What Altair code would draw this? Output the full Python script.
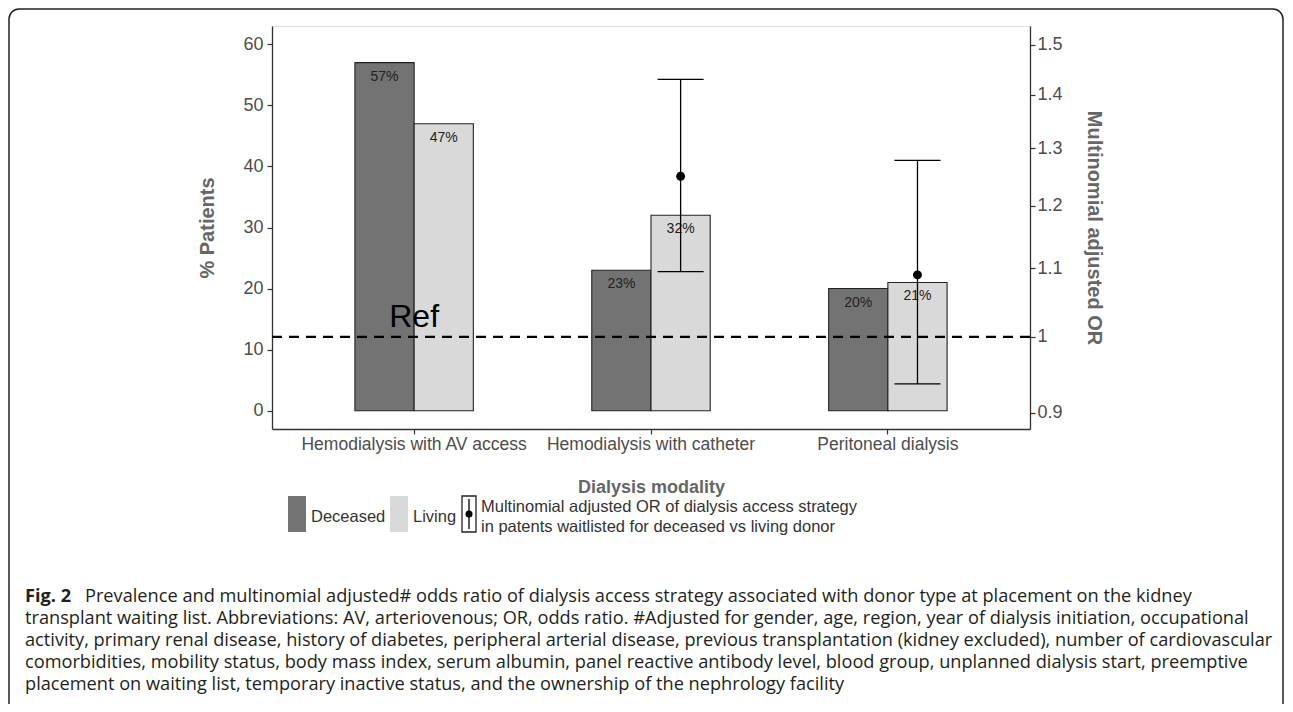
import altair as alt
import pandas as pd

# ---------------- data ----------------
modalities = ["Hemodialysis with AV access", "Hemodialysis with catheter", "Peritoneal dialysis"]
donors = ["Deceased", "Living"]
deceased_pct = [57, 23, 20]
living_pct = [47, 32, 21]

or_modalities = ["Hemodialysis with catheter", "Peritoneal dialysis"]
or_donor = ["Living", "Living"]
or_estimate = [1.25, 1.09]
or_lower = [1.095, 0.937]
or_upper = [1.43, 1.278]
ref_value = [1.0]
ref_label = ["Ref"]
ref_modality = ["Hemodialysis with AV access"]

left_ticks = [0, 10, 20, 30, 40, 50, 60]
right_ticks = [0.9, 1.0, 1.1, 1.2, 1.3, 1.4, 1.5]

legend_labels = ["Deceased", "Living"]
legend_colors = ["#737373", "#d9d9d9"]
or_legend_lines = ["Multinomial adjusted OR of dialysis access strategy",
                   "in patents waitlisted for deceased vs living donor"]

caption_bold = "Fig. 2"
caption_first = ("Prevalence and multinomial adjusted# odds ratio of dialysis access strategy "
                 "associated with donor type at placement on the kidney")
caption_rest = [
    "transplant waiting list. Abbreviations: AV, arteriovenous; OR, odds ratio. #Adjusted for gender, age, region, year of dialysis initiation, occupational",
    "activity, primary renal disease, history of diabetes, peripheral arterial disease, previous transplantation (kidney excluded), number of cardiovascular",
    "comorbidities, mobility status, body mass index, serum albumin, panel reactive antibody level, blood group, unplanned dialysis start, preemptive",
    "placement on waiting list, temporary inactive status, and the ownership of the nephrology facility",
]

# ---------------- tables ----------------
bars_df = pd.DataFrame({
    "modality": modalities * 2,
    "donor": [donors[0]] * 3 + [donors[1]] * 3,
    "pct": deceased_pct + living_pct,
})
bars_df["label"] = bars_df["pct"].astype(int).astype(str) + "%"

or_df = pd.DataFrame({
    "modality": or_modalities,
    "donor": or_donor,
    "est": or_estimate,
    "low": or_lower,
    "high": or_upper,
})
ref_df = pd.DataFrame({"modality": ref_modality, "or": ref_value, "label": ref_label})

W, H = 758, 403
FONT = "Liberation Sans"
AXIS_COL = "#333333"
LABEL_COL = "#4d4d4d"
TITLE_COL = "#666666"

x_enc = alt.X("modality:N", sort=modalities,
              scale=alt.Scale(domain=modalities, paddingInner=0.5, paddingOuter=0.35),
              axis=alt.Axis(title="Dialysis modality", labelAngle=0, labelFontSize=17.5,
                            labelLimit=0, labelColor=LABEL_COL, labelFont=FONT, titleFont=FONT,
                            titleFontSize=18, titleColor=TITLE_COL, titleFontWeight="bold",
                            titlePadding=26, labelPadding=1, tickSize=5, tickColor=AXIS_COL,
                            domainColor=AXIS_COL, domainWidth=1.3, tickWidth=1.2, grid=False))
xoff_enc = alt.XOffset("donor:N", sort=donors,
                       scale=alt.Scale(domain=donors, paddingInner=0, paddingOuter=0))

left_scale = alt.Scale(domain=[-3, 63], nice=False, zero=False)
left_axis = alt.Axis(values=left_ticks, title="% Patients", labelFontSize=18, labelColor=LABEL_COL,
                     labelFont=FONT, titleFont=FONT, titleFontSize=20, titleColor=TITLE_COL,
                     titleFontWeight="bold", titlePadding=25, labelPadding=4, tickSize=5,
                     tickColor=AXIS_COL, domainColor=AXIS_COL, domainWidth=1.3, tickWidth=1.2,
                     grid=False)

right_scale = alt.Scale(type="log", domain=[0.88, 1.54], nice=False, zero=False)
right_axis = alt.Axis(orient="right", values=right_ticks, format="~g",
                      title="Multinomial adjusted OR", labelFontSize=18, labelColor=LABEL_COL,
                      labelFont=FONT, titleFont=FONT, titleFontSize=20, titleColor=TITLE_COL,
                      titleFontWeight="bold", titlePadding=21, labelPadding=2, tickSize=5,
                      tickColor=AXIS_COL, domainColor=AXIS_COL, domainWidth=1.3, tickWidth=1.2,
                      grid=False)

# ---------------- left layer: bars ----------------
bars = alt.Chart(bars_df).mark_bar(stroke="#222222", strokeWidth=1.1).encode(
    x=x_enc,
    xOffset=xoff_enc,
    y=alt.Y("pct:Q", scale=left_scale, axis=left_axis),
    y2=alt.datum(0),
    color=alt.Color("donor:N", scale=alt.Scale(domain=legend_labels, range=legend_colors), legend=None),
)
bar_text = alt.Chart(bars_df).mark_text(baseline="top", dy=7, fontSize=14, font=FONT,
                                        color="#222222").encode(
    x=alt.X("modality:N", sort=modalities),
    xOffset=xoff_enc,
    y=alt.Y("pct:Q", scale=left_scale, axis=left_axis),
    text="label:N",
)
left_layer = alt.layer(bars, bar_text)

# ---------------- right layer: OR ----------------
ref_rule = alt.Chart(ref_df).mark_rule(color="black", strokeWidth=2.2, strokeDash=[10, 7]).encode(
    y=alt.Y("or:Q", scale=right_scale, axis=right_axis),
)
ref_text = alt.Chart(ref_df).mark_text(fontSize=32, font=FONT, color="black", baseline="alphabetic",
                                       dy=-10).encode(
    x=alt.X("modality:N", sort=modalities),
    y=alt.Y("or:Q", scale=right_scale, axis=right_axis),
    text="label:N",
)
err_rule = alt.Chart(or_df).mark_rule(color="black", strokeWidth=1.3).encode(
    x=alt.X("modality:N", sort=modalities),
    xOffset=xoff_enc,
    y=alt.Y("low:Q", scale=right_scale, axis=right_axis),
    y2="high:Q",
)
caps = alt.Chart(or_df).transform_fold(["low", "high"], as_=["end", "val"]).mark_tick(
    color="black", thickness=1.3, size=46, opacity=1).encode(
    x=alt.X("modality:N", sort=modalities),
    xOffset=xoff_enc,
    y=alt.Y("val:Q", scale=right_scale, axis=right_axis),
)
points = alt.Chart(or_df).mark_circle(color="black", size=80, opacity=1).encode(
    x=alt.X("modality:N", sort=modalities),
    xOffset=xoff_enc,
    y=alt.Y("est:Q", scale=right_scale, axis=right_axis),
)
right_layer = alt.layer(ref_rule, err_rule, caps, points, ref_text)

# ---------------- legend (decoration drawn in pixel space) ----------------
def one(v):
    return pd.DataFrame({"t": [v]})

KEY_Y, KEY_Y2 = 470, 506
LEG_FS = 16.5
leg_parts = []
key_x = [(16, 34), (118, 136)]
text_x = [39, 141]
for i, lab in enumerate(legend_labels):
    leg_parts.append(alt.Chart(one(lab)).mark_rect(color=legend_colors[i]).encode(
        x=alt.value(key_x[i][0]), x2=alt.value(key_x[i][1]),
        y=alt.value(KEY_Y), y2=alt.value(KEY_Y2)))
    leg_parts.append(alt.Chart(one(lab)).mark_text(align="left", baseline="middle", fontSize=LEG_FS,
                                                  font=FONT, color="#333333").encode(
        x=alt.value(text_x[i]), y=alt.value(491), text="t:N"))
# OR key: box, vertical line and dot
leg_parts.append(alt.Chart(one("box")).mark_rect(fill="white", stroke="#222222", strokeWidth=1.3).encode(
    x=alt.value(190), x2=alt.value(204), y=alt.value(KEY_Y), y2=alt.value(KEY_Y2)))
leg_parts.append(alt.Chart(one("line")).mark_rule(color="black", strokeWidth=1.3).encode(
    x=alt.value(197), y=alt.value(KEY_Y + 3), y2=alt.value(KEY_Y2 - 3)))
leg_parts.append(alt.Chart(one("dot")).mark_circle(color="black", size=50, opacity=1).encode(
    x=alt.value(197), y=alt.value(488)))
for j, line in enumerate(or_legend_lines):
    leg_parts.append(alt.Chart(one(line)).mark_text(
        align="left", baseline="middle", fontSize=LEG_FS, font=FONT, color="#333333").encode(
        x=alt.value(209), y=alt.value(481 + 20 * j), text="t:N"))

# ---------------- caption and frame ----------------
CAP_FONT = "Open Sans"
CAP_FS = 18.2
CAP_COL = "#231f20"
cap_parts = [
    alt.Chart(one(caption_bold)).mark_text(align="left", baseline="middle", fontSize=CAP_FS,
                                           font=CAP_FONT, fontWeight="bold", color=CAP_COL).encode(
        x=alt.value(-247), y=alt.value(571), text="t:N"),
    alt.Chart(one(caption_first)).mark_text(align="left", baseline="middle", fontSize=CAP_FS,
                                            font=CAP_FONT, color=CAP_COL).encode(
        x=alt.value(-187), y=alt.value(571), text="t:N"),
]
for k, line in enumerate(caption_rest):
    cap_parts.append(alt.Chart(one(line)).mark_text(align="left", baseline="middle", fontSize=CAP_FS,
                                                    font=CAP_FONT, color=CAP_COL).encode(
        x=alt.value(-247), y=alt.value(593 + 22 * k), text="t:N"))

frame = alt.Chart(one("frame")).mark_rect(fillOpacity=0, stroke="#222222", strokeWidth=1.5,
                                          cornerRadius=10).encode(
    x=alt.value(-263), x2=alt.value(1011), y=alt.value(-17), y2=alt.value(720))

chart = alt.layer(left_layer, right_layer, *leg_parts, *cap_parts, frame).resolve_scale(
    y="independent"
).properties(
    width=W, height=H,
    autosize=alt.AutoSizeParams(type="none"),
    padding={"left": 264, "top": 18, "right": 255, "bottom": 275},
).configure_view(stroke=None).configure(background="white")

chart.save("out.html", embed_options={"renderer": "svg", "actions": False})
